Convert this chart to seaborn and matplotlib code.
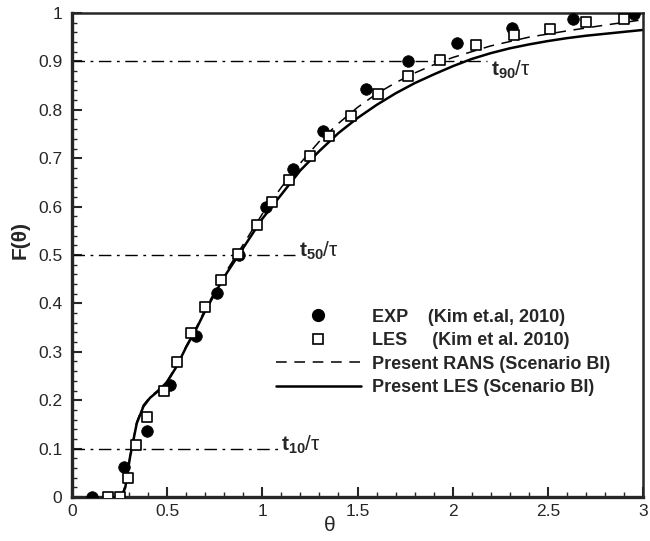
import numpy as np
import pandas as pd
import seaborn as sns
import matplotlib as mpl
mpl.use('Agg')
import matplotlib.pyplot as plt
from matplotlib.lines import Line2D

# experiment / LES reference points (Kim et al. 2010)
exp_x = [0.107, 0.273, 0.396, 0.515, 0.652, 0.760, 0.879, 1.020, 1.163, 1.317,
         1.545, 1.767, 2.020, 2.310, 2.630, 2.950]
exp_y = [0.000, 0.063, 0.136, 0.231, 0.333, 0.422, 0.500, 0.599, 0.678, 0.756,
         0.842, 0.900, 0.939, 0.970, 0.988, 0.997]

les_x = [0.187, 0.252, 0.296, 0.336, 0.396, 0.483, 0.553, 0.624, 0.700, 0.784,
         0.870, 0.970, 1.053, 1.140, 1.250, 1.350, 1.466, 1.610, 1.764, 1.934,
         2.120, 2.320, 2.510, 2.700, 2.900]
les_y = [0.000, 0.000, 0.039, 0.107, 0.166, 0.219, 0.278, 0.338, 0.393, 0.448,
         0.502, 0.562, 0.610, 0.655, 0.705, 0.745, 0.787, 0.832, 0.869, 0.903,
         0.933, 0.955, 0.967, 0.982, 0.988]

# present simulations
rans_x = [0.26, 0.28, 0.305, 0.34, 0.375, 0.41, 0.45, 0.50, 0.55, 0.60, 0.65, 0.70,
          0.80, 0.90, 1.00, 1.10, 1.20, 1.30, 1.40, 1.50, 1.60, 1.70, 1.80, 1.90,
          2.00, 2.20, 2.40, 2.60, 2.80, 3.00]
rans_y = [0.000, 0.025, 0.085, 0.155, 0.190, 0.207, 0.220, 0.240, 0.272, 0.312,
          0.348, 0.388, 0.460, 0.522, 0.585, 0.640, 0.690, 0.735, 0.772, 0.805,
          0.833, 0.856, 0.876, 0.893, 0.908, 0.932, 0.950, 0.963, 0.975, 0.986]

sim_x = [0.26, 0.28, 0.305, 0.34, 0.375, 0.41, 0.45, 0.50, 0.55, 0.60, 0.65, 0.70,
         0.80, 0.90, 1.00, 1.10, 1.20, 1.30, 1.40, 1.50, 1.60, 1.70, 1.80, 1.90,
         2.00, 2.10, 2.20, 2.30, 2.40, 2.50, 2.60, 2.70, 2.80, 2.90, 3.00]
sim_y = [0.000, 0.020, 0.083, 0.152, 0.187, 0.205, 0.218, 0.238, 0.270, 0.310,
         0.345, 0.385, 0.455, 0.515, 0.575, 0.625, 0.675, 0.715, 0.752, 0.783,
         0.810, 0.834, 0.855, 0.873, 0.890, 0.905, 0.917, 0.927, 0.935, 0.942,
         0.948, 0.953, 0.957, 0.961, 0.965]

# t_xx/tau reference levels
ref_levels = [0.1, 0.5, 0.9]
ref_ends = [1.08, 1.17, 2.18]
ref_names = ['10', '50', '90']
ref_text_x = [1.10, 1.19, 2.20]
ref_text_y = [0.108, 0.508, 0.882]

sns.set_style('ticks')
plt.rcParams['font.family'] = ['Liberation Sans', 'DejaVu Sans']
plt.rcParams['mathtext.fontset'] = 'custom'
plt.rcParams['mathtext.rm'] = 'Liberation Sans'
plt.rcParams['mathtext.bf'] = 'Liberation Sans:bold'

fig = plt.figure(figsize=(6.5, 5.41), dpi=100)
ax = fig.add_axes([0.1108, 0.0813, 0.8785, 0.8947])

dashdot = (0, (9, 4, 2, 4))
for lvl, end, nm, tx, ty in zip(ref_levels, ref_ends, ref_names, ref_text_x, ref_text_y):
    ax.plot([0, end], [lvl, lvl], color='black', lw=1.0, linestyle=dashdot)
    ax.text(tx, ty, r'$\mathbf{t_{%s}}$/τ' % nm, fontsize=15, va='center', ha='left')

df_rans = pd.DataFrame({'x': rans_x, 'y': rans_y})
df_sim = pd.DataFrame({'x': sim_x, 'y': sim_y})
sns.lineplot(data=df_rans, x='x', y='y', ax=ax, color='black', lw=1.1,
             linestyle=(0, (7, 5)), sort=False)
sns.lineplot(data=df_sim, x='x', y='y', ax=ax, color='black', lw=1.8, sort=False)

sns.scatterplot(x=exp_x, y=exp_y, ax=ax, marker='o', s=70, color='black',
                edgecolor='black', linewidth=0.5, zorder=5)
sns.scatterplot(x=les_x, y=les_y, ax=ax, marker='s', s=45, facecolor='white',
                edgecolor='black', linewidth=1.2, zorder=6)

ax.set_xlim(0, 3)
ax.set_ylim(0, 1)
ax.set_xticks(np.arange(0, 3.01, 0.5))
ax.set_xticklabels(['0', '0.5', '1', '1.5', '2', '2.5', '3'])
ax.set_yticks(np.arange(0, 1.01, 0.1))
ax.set_yticklabels(['0', '0.1', '0.2', '0.3', '0.4', '0.5', '0.6', '0.7', '0.8', '0.9', '1'])
ax.set_xticks(np.arange(0, 3.01, 0.1), minor=True)
ax.set_yticks(np.arange(0, 1.001, 0.02), minor=True)
ax.tick_params(which='major', direction='in', length=7, width=1.5, labelsize=12.5, pad=5)
ax.tick_params(which='minor', direction='in', length=3.8, width=1.0)
ax.tick_params(axis='y', which='major', pad=7)

for side in ['left', 'bottom']:
    ax.spines[side].set_linewidth(2.4)
for side in ['top', 'right']:
    ax.spines[side].set_linewidth(1.8)

ax.set_xlabel('θ', fontsize=15)
ax.set_ylabel('F(θ)', fontsize=15, fontweight='bold')
ax.xaxis.set_label_coords(0.452, -0.04)
ax.yaxis.set_label_coords(-0.075, 0.53)

handles = [
    Line2D([], [], ls='none', marker='o', ms=8.5, color='black'),
    Line2D([], [], ls='none', marker='s', ms=7, mfc='white', mec='black', mew=1.2),
    Line2D([], [], color='black', lw=1.1, linestyle=(0, (7, 5))),
    Line2D([], [], color='black', lw=1.8),
]
labels = ['EXP    (Kim et.al, 2010)', 'LES     (Kim et al. 2010)',
          'Present RANS (Scenario BI)', 'Present LES (Scenario BI)']
leg = ax.legend(handles, labels, loc='upper left', bbox_to_anchor=(0.357, 0.389),
                frameon=False, handlelength=4.7, handletextpad=0.6,
                labelspacing=0.36, borderpad=0, borderaxespad=0,
                prop={'weight': 'bold', 'size': 13})

fig.savefig('out.png', dpi=100)
